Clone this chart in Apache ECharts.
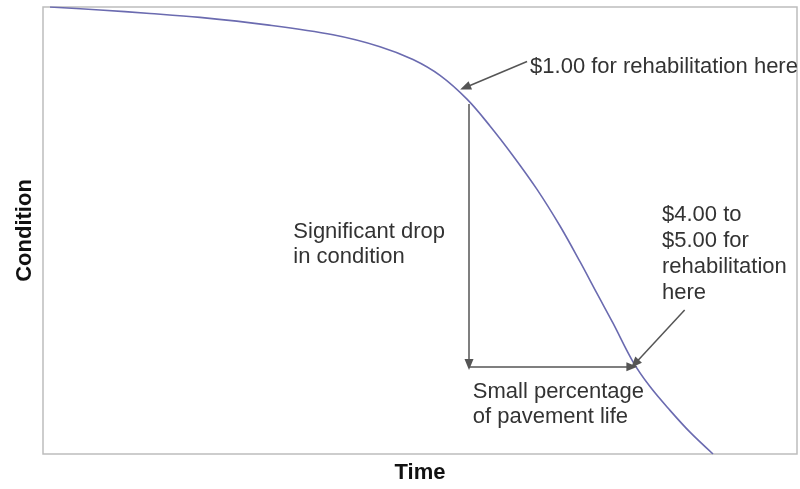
<!DOCTYPE html>
<html>
<head>
<meta charset="utf-8">
<script src="https://cdn.jsdelivr.net/npm/echarts@6/dist/echarts.min.js"></script>
<style>
html,body{margin:0;padding:0;background:#fff;}
#chart{width:800px;height:489px;}
</style>
</head>
<body>
<div id="chart"></div>
<script>
// Deterioration curve (time 0-100, condition 0-100)
var timeValues      = [0.93, 7.56,  14.19, 20.82, 29.71, 38.46, 44.69, 49.07, 52.65, 56.23, 59.28, 62.33, 65.52, 68.57, 71.22, 73.47, 75.60, 78.25, 80.50, 83.16, 85.81, 88.86];
var conditionValues = [100,  99.33, 98.56, 97.67, 96.01, 93.79, 91.13, 88.25, 84.70, 79.38, 73.39, 66.74, 59.20, 51.00, 43.02, 35.92, 29.27, 20.62, 15.08, 9.76,  4.88,  0];

// Annotation arrows: [fromTime, fromCondition, toTime, toCondition]
var arrowLines = [
  [64.2, 87.8, 56.0, 82.0],
  [56.5, 78.3, 56.5, 20.0],
  [56.5, 19.5, 78.1, 19.5],
  [85.1, 32.2, 78.5, 20.2]
];
// Annotation texts: anchor (left-middle) at [time, condition]
var noteTexts = [
  "$1.00 for rehabilitation here",
  "Significant drop\nin condition",
  "$4.00 to\n$5.00 for\nrehabilitation\nhere",
  "Small percentage\nof pavement life"
];
var noteAnchors = [[64.6, 86.6], [33.2, 46.8], [82.1, 44.7], [57.0, 11.1]];
var noteLineHeights = [25, 25, 26, 25];

var curve = timeValues.map(function (t, i) { return [t, conditionValues[i]]; });

var chart = echarts.init(document.getElementById('chart'), null, {renderer: 'canvas'});
var option = {
  animation: false,
  backgroundColor: '#ffffff',
  grid: {left: 43, top: 7, right: 3, bottom: 31, show: true, borderColor: '#bdbdbd', borderWidth: 1.5, backgroundColor: 'transparent'},
  xAxis: {
    type: 'value', min: 0, max: 100,
    name: 'Time', nameLocation: 'middle', nameGap: 8,
    nameTextStyle: {fontFamily: 'Liberation Sans, Arial, sans-serif', fontWeight: 'bold', fontSize: 22, color: '#111'},
    axisLine: {show: false}, axisTick: {show: false}, axisLabel: {show: false}, splitLine: {show: false}
  },
  yAxis: {
    type: 'value', min: 0, max: 100,
    name: 'Condition', nameLocation: 'middle', nameGap: 7,
    nameTextStyle: {fontFamily: 'Liberation Sans, Arial, sans-serif', fontWeight: 'bold', fontSize: 22, color: '#111'},
    axisLine: {show: false}, axisTick: {show: false}, axisLabel: {show: false}, splitLine: {show: false}
  },
  series: [
    {
      type: 'line',
      data: curve,
      smooth: 0.35,
      symbol: 'none',
      lineStyle: {color: '#6b6bb0', width: 1.6},
      z: 3
    },
    {
      type: 'line',
      data: [],
      silent: true,
      markLine: {
        silent: true,
        symbol: ['none', 'triangle'],
        symbolSize: [9, 11],
        label: {show: false},
        lineStyle: {color: '#555', width: 1.5, type: 'solid'},
        data: arrowLines.map(function (a) {
          return [{coord: [a[0], a[1]]}, {coord: [a[2], a[3]]}];
        })
      },
      markPoint: {
        silent: true,
        symbol: 'circle',
        symbolSize: 0,
        data: noteTexts.map(function (txt, i) {
          return {
            coord: noteAnchors[i],
            label: {
              show: true,
              formatter: txt,
              position: [0, 0],
              align: 'left',
              verticalAlign: 'middle',
              fontFamily: 'Liberation Sans, Arial, sans-serif',
              fontSize: 22,
              lineHeight: noteLineHeights[i],
              color: '#333'
            }
          };
        })
      }
    }
  ]
};
chart.setOption(option);
</script>
</body>
</html>
